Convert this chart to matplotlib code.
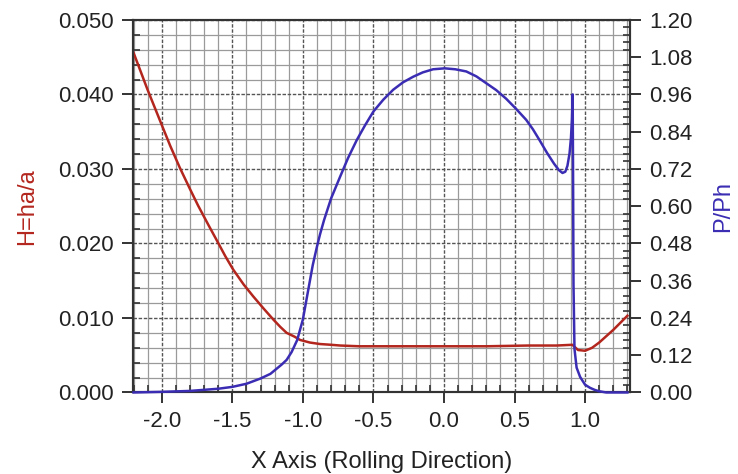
import matplotlib
matplotlib.use('Agg')
import matplotlib.pyplot as plt
from matplotlib.ticker import MultipleLocator, FormatStrFormatter

plt.rcParams['font.family'] = ['Liberation Sans', 'DejaVu Sans']

# film thickness ratio H = ha/a along rolling direction
x_h = [-2.2, -2.1, -2.0, -1.94, -1.873, -1.8, -1.743, -1.67, -1.601, -1.55,
       -1.494, -1.42, -1.352, -1.28, -1.21, -1.16, -1.115, -1.06, -1.02,
       -0.95, -0.878, -0.8, -0.736, -0.6, -0.3, 0.0, 0.3, 0.6, 0.8, 0.91,
       0.95, 1.0, 1.05, 1.1, 1.2, 1.3]
h_val = [0.0456, 0.0406, 0.0359, 0.0331, 0.0302, 0.0273, 0.0251, 0.0225,
         0.0201, 0.0183, 0.0165, 0.0145, 0.0129, 0.0113, 0.0098, 0.0088,
         0.0080, 0.0075, 0.00705, 0.0067, 0.0065, 0.0064, 0.0063, 0.0062,
         0.0062, 0.0062, 0.0062, 0.0063, 0.0063, 0.0064, 0.0057, 0.0056,
         0.0060, 0.0067, 0.0084, 0.0103]

# pressure ratio P/Ph
x_p = [-2.2, -2.0, -1.8, -1.6, -1.5, -1.4, -1.3, -1.23, -1.15, -1.115, -1.08,
       -1.04, -1.0, -0.972, -0.93, -0.9, -0.878, -0.85, -0.8, -0.736, -0.68,
       -0.618, -0.56, -0.5, -0.43, -0.36, -0.29, -0.218, -0.15, -0.077, 0.005,
       0.08, 0.158, 0.23, 0.30, 0.37, 0.441, 0.51, 0.583, 0.63, 0.677, 0.73,
       0.78, 0.815, 0.84, 0.86, 0.875, 0.89, 0.9, 0.907, 0.912, 0.915, 0.918,
       0.925, 0.94, 0.965, 1.0, 1.035, 1.07, 1.1, 1.15, 1.3]
p_val = [0.0, 0.002, 0.005, 0.012, 0.018, 0.028, 0.045, 0.06, 0.09, 0.105,
         0.13, 0.169, 0.235, 0.305, 0.41, 0.47, 0.51, 0.555, 0.625, 0.695,
         0.755, 0.813, 0.86, 0.905, 0.943, 0.975, 0.999, 1.017, 1.031, 1.041,
         1.044, 1.041, 1.034, 1.018, 0.996, 0.974, 0.946, 0.914, 0.878, 0.848,
         0.813, 0.772, 0.737, 0.716, 0.707, 0.711, 0.73, 0.77, 0.82, 0.88,
         0.96, 0.70, 0.35, 0.14, 0.08, 0.05, 0.025, 0.015, 0.008, 0.004, 0.0,
         0.0]

red = '#b3261e'
blue = '#3b2db3'
dark = '#333333'

fig = plt.figure(figsize=(7.38, 4.74), dpi=100)
ax = fig.add_axes([0.180, 0.172, 0.673, 0.786])
ax2 = ax.twinx()

ax.plot(x_h, h_val, color=red, lw=1.8, zorder=3)
ax2.plot(x_p, p_val, color=blue, lw=1.8, zorder=3, clip_on=False)

ax.set_xlim(-2.205, 1.315)
ax.set_ylim(0, 0.05)
ax2.set_ylim(0, 1.2)

ax.xaxis.set_major_locator(MultipleLocator(0.5))
ax.xaxis.set_minor_locator(MultipleLocator(0.1))
ax.yaxis.set_major_locator(MultipleLocator(0.01))
ax.yaxis.set_minor_locator(MultipleLocator(0.002))
ax.yaxis.set_major_formatter(FormatStrFormatter('%.3f'))
ax.xaxis.set_major_formatter(FormatStrFormatter('%.1f'))
ax2.yaxis.set_major_locator(MultipleLocator(0.12))
ax2.yaxis.set_minor_locator(MultipleLocator(0.024))
ax2.yaxis.set_major_formatter(FormatStrFormatter('%.2f'))

ax.grid(which='minor', color='#9a9a9a', lw=0.9, ls='-')
ax.grid(which='major', color='#555555', lw=1.0, ls=(0, (2.5, 1.2)))
ax.set_axisbelow(True)

for a in (ax, ax2):
    a.tick_params(which='major', direction='out', length=8, width=1.4,
                  color=dark, labelsize=16, labelcolor='#222222', pad=6)
    a.tick_params(which='minor', direction='in', length=5, width=1.2, color=dark)
    for s in a.spines.values():
        s.set_color(dark)
        s.set_linewidth(1.5)
ax.tick_params(axis='x', which='major', pad=5)

ax.set_xlabel('X Axis (Rolling Direction)', fontsize=17, color='#222222', labelpad=14)
ax.set_ylabel('H=ha/a', fontsize=17, color=red, labelpad=14)
ax2.set_ylabel('P/Ph', fontsize=17, color=blue, labelpad=14)

fig.savefig('out.png', dpi=100)
